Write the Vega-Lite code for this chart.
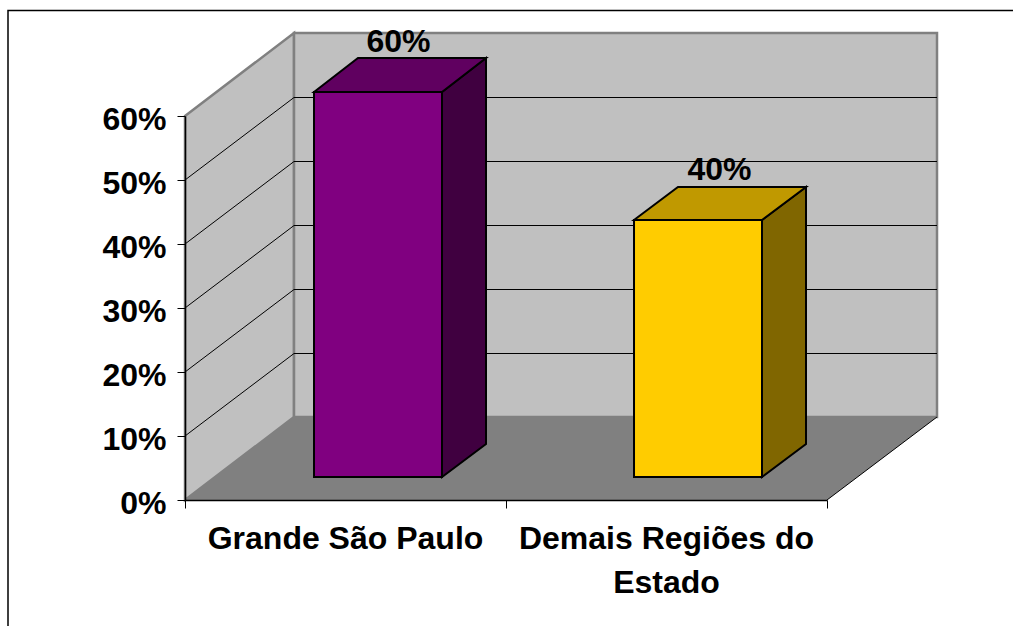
{
"$schema":"https://vega.github.io/schema/vega-lite/v6.json",
"width":642,"height":384,
"autosize":{"type":"none"},
"padding":{"left":185,"top":116,"right":186,"bottom":126},
"background":"white",
"config":{"view":{"stroke":null},"font":"Liberation Sans"},
"datasets":{
"shares":[{"region":"Grande São Paulo","share":0.6},{"region":"Demais Regiões do Estado","share":0.4}],
"frame":[{"step":1,"pos":-0.5514,"val":-0.2},{"step":2,"pos":-0.5514,"val":0.7648},{"step":3,"pos":2.5794,"val":0.7648}],
"surfaces":[
{"surface":"left wall","pos":0,"low":0,"high":0.6},{"surface":"left wall","pos":0.3396,"low":0.1297,"high":0.7297},
{"surface":"back wall","pos":0.3396,"low":0.1297,"high":0.7297},{"surface":"back wall","pos":2.3427,"low":0.1297,"high":0.7297}],
"floor":[{"pos":0,"low":0,"high":0},{"pos":0.3396,"low":0,"high":0.1297},{"pos":2,"low":0,"high":0.1297},{"pos":2.3427,"low":0.1297,"high":0.1297}],
"lines":[
{"line":"10%","pos":0,"val":0.1},{"line":"10%","pos":0.3396,"val":0.2289},{"line":"10%","pos":2.3427,"val":0.2289},
{"line":"20%","pos":0,"val":0.2},{"line":"20%","pos":0.3396,"val":0.3289},{"line":"20%","pos":2.3427,"val":0.3289},
{"line":"30%","pos":0,"val":0.3},{"line":"30%","pos":0.3396,"val":0.4289},{"line":"30%","pos":2.3427,"val":0.4289},
{"line":"40%","pos":0,"val":0.4},{"line":"40%","pos":0.3396,"val":0.5289},{"line":"40%","pos":2.3427,"val":0.5289},
{"line":"50%","pos":0,"val":0.5},{"line":"50%","pos":0.3396,"val":0.6289},{"line":"50%","pos":2.3427,"val":0.6289},
{"line":"floor edge","pos":2,"val":0},{"line":"floor edge","pos":2.3427,"val":0.1297}],
"faces":[
{"face":"SP side","pos":0.8006,"low":0.0359,"high":0.6375},{"face":"SP side","pos":0.9377,"low":0.0875,"high":0.6906},
{"face":"SP top","pos":0.4019,"low":0.6375,"high":0.6375},{"face":"SP top","pos":0.5389,"low":0.6375,"high":0.6906},{"face":"SP top","pos":0.8006,"low":0.6375,"high":0.6906},{"face":"SP top","pos":0.9377,"low":0.6906,"high":0.6906},
{"face":"SP front","pos":0.4019,"low":0.0359,"high":0.6375},{"face":"SP front","pos":0.8006,"low":0.0359,"high":0.6375},
{"face":"DR side","pos":1.7975,"low":0.0359,"high":0.4375},{"face":"DR side","pos":1.9346,"low":0.0875,"high":0.489},
{"face":"DR top","pos":1.3988,"low":0.4375,"high":0.4375},{"face":"DR top","pos":1.5358,"low":0.4375,"high":0.489},{"face":"DR top","pos":1.7975,"low":0.4375,"high":0.489},{"face":"DR top","pos":1.9346,"low":0.489,"high":0.489},
{"face":"DR front","pos":1.3988,"low":0.0359,"high":0.4375},{"face":"DR front","pos":1.7975,"low":0.0359,"high":0.4375}]
},
"layer":[
{"layer":[
{"data":{"name":"surfaces"},"mark":{"type":"area","fill":"#c0c0c0","stroke":"#808080","strokeWidth":2.5,"clip":false},
 "encoding":{"x":{"field":"pos","type":"quantitative","scale":{"domain":[0,2],"nice":false,"zero":false},
   "axis":{"values":[0,1,2],"labels":false,"title":null,"grid":false,"tickSize":8,"tickColor":"black","domainColor":"black","domainWidth":1.5,"zindex":1}},
  "y":{"field":"high","type":"quantitative","scale":{"domain":[0,0.6],"nice":false,"zero":false},
   "axis":{"values":[0,0.1,0.2,0.3,0.4,0.5,0.6],"format":".0%","title":null,"grid":false,"tickSize":8,"tickColor":"black","domainColor":"black","domainWidth":1.5,"labelFontSize":32,"labelFontWeight":"bold","labelColor":"black","labelPadding":11,"labelOffset":3,"zindex":1}},
  "y2":{"field":"low"},"detail":{"field":"surface"}}},
{"data":{"name":"floor"},"mark":{"type":"area","fill":"#808080","clip":false},
 "encoding":{"x":{"field":"pos","type":"quantitative"},"y":{"field":"high","type":"quantitative"},"y2":{"field":"low"}}},
{"data":{"name":"lines"},"mark":{"type":"line","color":"black","strokeWidth":1,"clip":false},
 "encoding":{"x":{"field":"pos","type":"quantitative"},"y":{"field":"val","type":"quantitative"},"detail":{"field":"line"}}},
{"data":{"name":"faces"},"mark":{"type":"area","stroke":"black","strokeWidth":2,"strokeJoin":"miter","clip":false},
 "encoding":{"x":{"field":"pos","type":"quantitative"},"y":{"field":"high","type":"quantitative"},"y2":{"field":"low"},
  "color":{"field":"face","type":"nominal","legend":null,"scale":{"domain":["SP front","SP top","SP side","DR front","DR top","DR side"],"range":["#800080","#600060","#400040","#ffcc00","#c09900","#806600"]}}}},
{"data":{"name":"frame"},"mark":{"type":"line","color":"black","strokeWidth":1.5,"clip":false},
 "encoding":{"x":{"field":"pos","type":"quantitative"},"y":{"field":"val","type":"quantitative"},"order":{"field":"step"}}}
]},
{"data":{"name":"shares"},"mark":{"type":"text","font":"Liberation Sans","fontWeight":"bold","fontSize":32,"color":"black","dx":53,"dy":-74,"clip":false},
 "encoding":{"x":{"field":"region","type":"nominal","sort":null,"scale":{"type":"band","paddingInner":0,"paddingOuter":0},
   "axis":{"orient":"bottom","zindex":1,"title":null,"ticks":false,"domain":false,"labelAngle":0,"labelFontSize":32,"labelFontWeight":"bold","labelColor":"black","labelPadding":23,"labelLimit":400,"labelLineHeight":44,"labelExpr":"datum.label == 'Demais Regiões do Estado' ? ['Demais Regiões do','Estado'] : datum.label"}},
  "y":{"field":"share","type":"quantitative"},
  "text":{"field":"share","type":"quantitative","format":".0%"}}}
],
"resolve":{"scale":{"x":"independent"},"axis":{"x":"independent"}}
}
